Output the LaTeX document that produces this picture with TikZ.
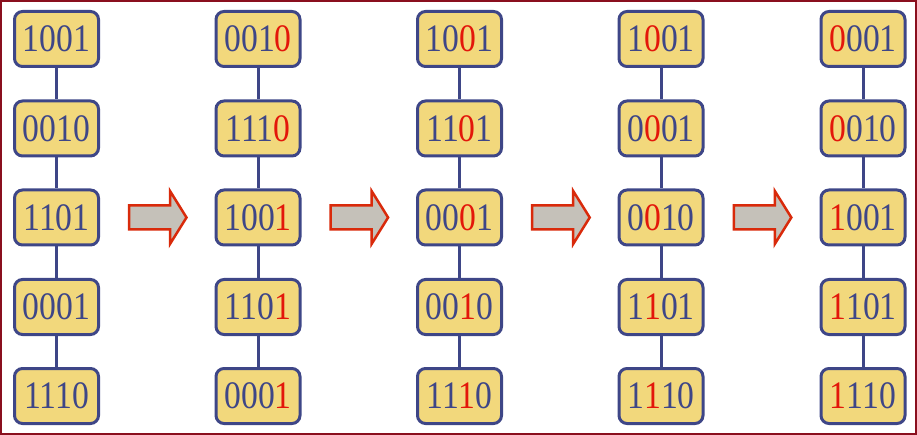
\documentclass[tikz,border=0pt]{standalone}
\usepackage{fontspec}
\setmainfont{Liberation Serif}
\definecolor{boxfill}{HTML}{F2D87C}
\definecolor{boxline}{HTML}{3E4687}
\definecolor{digitred}{HTML}{E3170A}
\definecolor{arrowfill}{HTML}{C5C1B9}
\definecolor{arrowline}{HTML}{D92A0B}
\definecolor{framecol}{HTML}{8A0F1E}
\newcommand{\rd}[1]{\textcolor{digitred}{#1}}
\newcommand{\dg}[1]{\scalebox{1.02}[1.18]{#1}}
\begin{document}
\begin{tikzpicture}[x=1pt,y=-1pt,
  cell/.style={draw=boxline, fill=boxfill, line width=3pt, rounded corners=8pt,
    minimum width=84pt, minimum height=55pt, inner sep=0pt, text=boxline,
    font=\fontsize{33}{36}\selectfont},
  link/.style={draw=boxline, line width=3pt},
  bigarrow/.style={draw=arrowline, fill=arrowfill, line width=2.5pt}]
\useasboundingbox (0,0) rectangle (917,435);
\draw[framecol, line width=2pt] (1,1) rectangle (916,434);
% column 1
\node[cell] (a1) at (56.5,39)  {\dg{1001}};
\node[cell] (a2) at (56.5,128.5) {\dg{0010}};
\node[cell] (a3) at (56.5,217.5) {\dg{1101}};
\node[cell] (a4) at (56.5,307) {\dg{0001}};
\node[cell] (a5) at (56.5,396) {\dg{1110}};
% column 2
\node[cell] (b1) at (258,39)  {\dg{001\rd{0}}};
\node[cell] (b2) at (258,128.5) {\dg{111\rd{0}}};
\node[cell] (b3) at (258,217.5) {\dg{100\rd{1}}};
\node[cell] (b4) at (258,307) {\dg{110\rd{1}}};
\node[cell] (b5) at (258,396) {\dg{000\rd{1}}};
% column 3
\node[cell] (c1) at (459.5,39)  {\dg{10\rd{0}1}};
\node[cell] (c2) at (459.5,128.5) {\dg{11\rd{0}1}};
\node[cell] (c3) at (459.5,217.5) {\dg{00\rd{0}1}};
\node[cell] (c4) at (459.5,307) {\dg{00\rd{1}0}};
\node[cell] (c5) at (459.5,396) {\dg{11\rd{1}0}};
% column 4
\node[cell] (d1) at (661,39)  {\dg{1\rd{0}01}};
\node[cell] (d2) at (661,128.5) {\dg{0\rd{0}01}};
\node[cell] (d3) at (661,217.5) {\dg{0\rd{0}10}};
\node[cell] (d4) at (661,307) {\dg{1\rd{1}01}};
\node[cell] (d5) at (661,396) {\dg{1\rd{1}10}};
% column 5
\node[cell] (e1) at (863,39)  {\dg{\rd{0}001}};
\node[cell] (e2) at (863,128.5) {\dg{\rd{0}010}};
\node[cell] (e3) at (863,217.5) {\dg{\rd{1}001}};
\node[cell] (e4) at (863,307) {\dg{\rd{1}101}};
\node[cell] (e5) at (863,396) {\dg{\rd{1}110}};
% links
\foreach \c in {a,b,c,d,e}{
  \draw[link] (\c1) -- (\c2);
  \draw[link] (\c2) -- (\c3);
  \draw[link] (\c3) -- (\c4);
  \draw[link] (\c4) -- (\c5);
}
% arrows
\foreach \k in {0,1,2,3}{
  \begin{scope}[shift={(201.6*\k,0)}]
    \draw[bigarrow] (129,205.5) -- (170,205.5) -- (170,191) -- (186.5,217.5)
      -- (170,244) -- (170,229.5) -- (129,229.5) -- cycle;
  \end{scope}
}
\end{tikzpicture}
\end{document}
